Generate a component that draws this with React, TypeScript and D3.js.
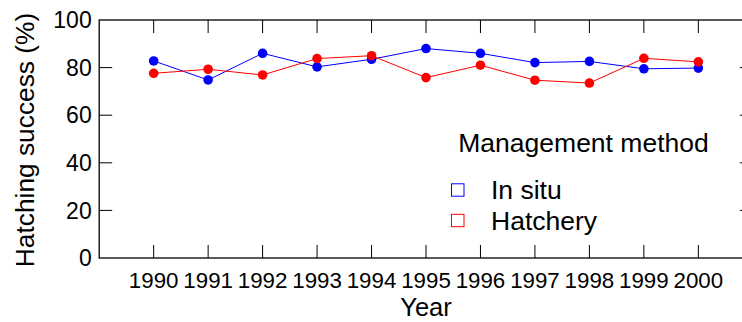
import * as d3 from 'd3';
import { useEffect, useRef } from 'react';

// 年份与两种管理方式的孵化成功率
const years = [1990, 1991, 1992, 1993, 1994, 1995, 1996, 1997, 1998, 1999, 2000];
const inSitu = [82.8, 74.8, 86.0, 80.3, 83.5, 88.0, 86.0, 82.1, 82.6, 79.5, 79.8];
const hatchery = [77.6, 79.3, 76.9, 83.8, 85.0, 75.8, 81.0, 74.7, 73.5, 83.9, 82.4];
const yTicks = [0, 20, 40, 60, 80, 100];
const seriesNames = ['In situ', 'Hatchery'];
const seriesColors = ['#0000ff', '#ff0000'];

const FONT = 'Liberation Sans, Arial, Helvetica, sans-serif';

export default function App() {
    const ref = useRef<SVGSVGElement>(null);

    useEffect(() => {
        const svg = d3.select(ref.current);
        svg.selectAll('*').remove();

        const width = 742, height = 322;
        const left = 99.2, right = 752.8, top = 20, bottom = 258;
        const tickLen = 13;

        const x = d3.scaleLinear().domain([1989, 2001]).range([left, right]);
        const y = d3.scaleLinear().domain([0, 100]).range([bottom, top]);

        svg.attr('width', width).attr('height', height);
        const g = svg.append('g');

        // 外框
        g.append('rect')
            .attr('x', left).attr('y', top)
            .attr('width', right - left).attr('height', bottom - top)
            .attr('fill', 'none').attr('stroke', '#000').attr('stroke-width', 1.3);

        // 刻度（四边朝内）
        years.forEach(yr => {
            g.append('line').attr('x1', x(yr)).attr('x2', x(yr))
                .attr('y1', bottom).attr('y2', bottom - tickLen).attr('stroke', '#000');
            g.append('line').attr('x1', x(yr)).attr('x2', x(yr))
                .attr('y1', top).attr('y2', top + tickLen).attr('stroke', '#000');
            g.append('text').attr('x', x(yr)).attr('y', 287.5)
                .attr('text-anchor', 'middle')
                .attr('font-family', FONT).attr('font-size', 22.3)
                .text(yr);
        });
        yTicks.forEach(v => {
            if (v > 0 && v < 100) {
                g.append('line').attr('x1', left).attr('x2', left + tickLen)
                    .attr('y1', y(v)).attr('y2', y(v)).attr('stroke', '#000');
                g.append('line').attr('x1', right).attr('x2', right - tickLen)
                    .attr('y1', y(v)).attr('y2', y(v)).attr('stroke', '#000');
            }
            g.append('text').attr('x', 91.7).attr('y', y(v))
                .attr('dy', '0.36em')
                .attr('text-anchor', 'end')
                .attr('font-family', FONT).attr('font-size', 23)
                .text(v);
        });

        // 轴标题
        g.append('text').attr('x', 426).attr('y', 316)
            .attr('text-anchor', 'middle')
            .attr('font-family', FONT).attr('font-size', 25.5)
            .text('Year');
        g.append('text')
            .attr('transform', `translate(34,${(top + bottom) / 2 + 1}) rotate(-90)`)
            .attr('text-anchor', 'middle')
            .attr('font-family', FONT).attr('font-size', 26.3)
            .text('Hatching success (%)');

        // 折线与点
        const line = d3.line<number>()
            .x((d, i) => x(years[i]))
            .y(d => y(d));

        [inSitu, hatchery].forEach((data, k) => {
            g.append('path')
                .datum(data)
                .attr('fill', 'none')
                .attr('stroke', seriesColors[k])
                .attr('stroke-width', 1)
                .attr('d', line);
            g.selectAll(null)
                .data(data)
                .join('circle')
                .attr('cx', (d, i) => x(years[i]))
                .attr('cy', d => y(d))
                .attr('r', 4.8)
                .attr('fill', seriesColors[k]);
        });

        // 图例
        const legend = g.append('g');
        legend.append('text').attr('x', 458.3).attr('y', 152.3)
            .attr('font-family', FONT).attr('font-size', 26.5)
            .text('Management method');
        seriesNames.forEach((name, k) => {
            const cy = 190 + k * 30.5;
            legend.append('rect')
                .attr('x', 451.5).attr('y', cy - 6.2)
                .attr('width', 12.5).attr('height', 12.4)
                .attr('fill', 'none').attr('stroke', seriesColors[k]).attr('stroke-width', 1);
            legend.append('text').attr('x', 491).attr('y', 199 + k * 30.8)
                .attr('font-family', FONT).attr('font-size', 26.5)
                .text(name);
        });
    }, []);

    return (
        <svg ref={ref} style={{ position: 'absolute', left: 0, top: 0, display: 'block', background: '#fff' }} />
    );
}
